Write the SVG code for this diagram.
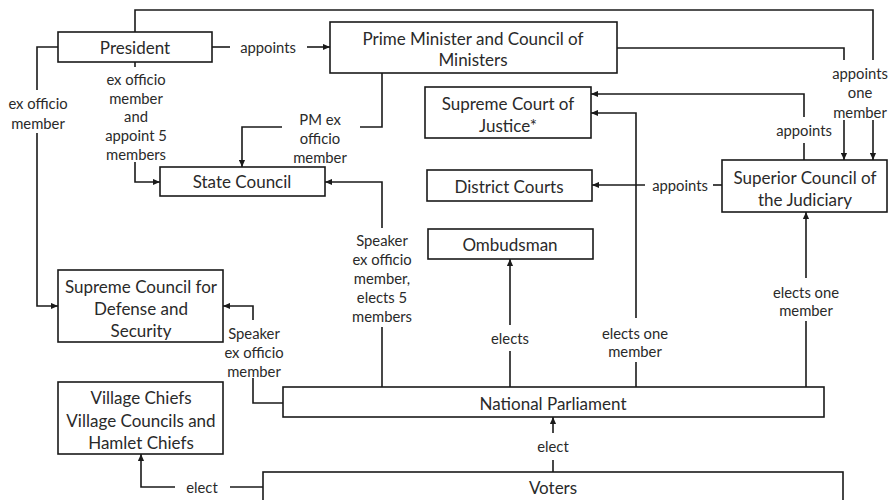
<svg xmlns="http://www.w3.org/2000/svg" width="891" height="500" viewBox="0 0 891 500">
  <style>
    .box { fill: #fff; stroke: #1a1a1a; stroke-width: 1.6; }
    .line { fill: none; stroke: #1a1a1a; stroke-width: 1.6; }
    .arr { marker-end: url(#ah); }
    .t { font-family: Lato, "Open Sans", sans-serif; font-weight: 400; font-size: 17px; fill: #2a2a2a; text-anchor: middle; dominant-baseline: central; }
    .l { font-family: Lato, "Open Sans", sans-serif; font-weight: 400; font-size: 14.8px; fill: #2a2a2a; text-anchor: middle; dominant-baseline: central; }
  </style>
  <defs>
    <marker id="ah" viewBox="0 0 8 8" refX="8" refY="4" markerWidth="7" markerHeight="7" orient="auto" markerUnits="userSpaceOnUse">
      <path d="M0,0.5 L8,4 L0,7.5 z" fill="#1a1a1a"/>
    </marker>
  </defs>
  <rect width="891" height="500" fill="#fff"/>

  <!-- connectors -->
  <g id="connectors">
    <!-- President appoints PM -->
    <path class="line" d="M212,47 H230"/>
    <path class="line arr" d="M307,47 H330"/>
    <!-- President top loop to Superior Council -->
    <path class="line" d="M135,32 V10 H873 V60"/>
    <path class="line arr" d="M873,120 V160"/>
    <!-- PM to Superior Council -->
    <path class="line" d="M617,48 H844 V60"/>
    <path class="line arr" d="M844,120 V160"/>
    <!-- President ex officio to Defense council -->
    <path class="line" d="M58,47 H37 V90"/>
    <path class="line arr" d="M37,133 V306 H58"/>
    <!-- President to State Council -->
    <path class="line" d="M135,62 V67"/>
    <path class="line arr" d="M135,162 V182 H160"/>
    <!-- PM ex officio to State Council -->
    <path class="line" d="M382,73 V127 H360"/>
    <path class="line arr" d="M282,127 H242 V167"/>
    <!-- Speaker to State Council -->
    <path class="line arr" d="M382,228 V182 H325"/>
    <path class="line" d="M382,327 V387"/>
    <!-- Speaker to Defense council -->
    <path class="line arr" d="M253,320 V306 H223"/>
    <path class="line" d="M253,378 V403 H283"/>
    <!-- Parliament elects Ombudsman -->
    <path class="line arr" d="M510,325 V259"/>
    <path class="line" d="M510,351 V387"/>
    <!-- Parliament elects one Supreme Court member -->
    <path class="line arr" d="M636,318 V113 H591"/>
    <path class="line" d="M636,362 V387"/>
    <!-- Parliament elects one Superior Council member -->
    <path class="line arr" d="M806,278 V212"/>
    <path class="line" d="M806,321 V387"/>
    <!-- Superior Council appoints Supreme Court -->
    <path class="line arr" d="M804,117 V94 H591"/>
    <path class="line" d="M804,143 V160"/>
    <!-- Superior Council appoints District Courts -->
    <path class="line" d="M722,185 H713"/>
    <path class="line arr" d="M645,185 H592"/>
    <!-- Voters elect Parliament -->
    <path class="line" d="M553,472 V460"/>
    <path class="line arr" d="M553,433 V417"/>
    <!-- Voters elect village bodies -->
    <path class="line" d="M263,487 H230"/>
    <path class="line arr" d="M175,487 H141 V454"/>
  </g>

  <!-- connector labels -->
  <g id="labels">
    <text class="l" x="268" y="47">appoints</text>
    <text class="l" x="860" y="73">appoints</text>
    <text class="l" x="860" y="92">one</text>
    <text class="l" x="860" y="112">member</text>
    <text class="l" x="38" y="103">ex officio</text>
    <text class="l" x="38" y="123">member</text>
    <text class="l" x="136" y="79">ex officio</text>
    <text class="l" x="136" y="98">member</text>
    <text class="l" x="136" y="116">and</text>
    <text class="l" x="136" y="135">appoint 5</text>
    <text class="l" x="136" y="154">members</text>
    <text class="l" x="320" y="119">PM ex</text>
    <text class="l" x="320" y="138">officio</text>
    <text class="l" x="320" y="157">member</text>
    <text class="l" x="382" y="240">Speaker</text>
    <text class="l" x="382" y="259">ex officio</text>
    <text class="l" x="382" y="278">member,</text>
    <text class="l" x="382" y="297">elects 5</text>
    <text class="l" x="382" y="316">members</text>
    <text class="l" x="254" y="333">Speaker</text>
    <text class="l" x="254" y="352">ex officio</text>
    <text class="l" x="254" y="371">member</text>
    <text class="l" x="510" y="338">elects</text>
    <text class="l" x="635" y="333">elects one</text>
    <text class="l" x="635" y="351">member</text>
    <text class="l" x="806" y="292">elects one</text>
    <text class="l" x="806" y="310">member</text>
    <text class="l" x="804" y="130">appoints</text>
    <text class="l" x="680" y="185">appoints</text>
    <text class="l" x="553" y="446">elect</text>
    <text class="l" x="202" y="487">elect</text>
  </g>

  <!-- nodes -->
  <g id="president">
    <rect class="box" x="58" y="32" width="154" height="30"/>
    <text class="t" x="135" y="47">President</text>
  </g>
  <g id="prime-minister">
    <rect class="box" x="330" y="22" width="287" height="51"/>
    <text class="t" x="473" y="38">Prime Minister and Council of</text>
    <text class="t" x="473" y="59">Ministers</text>
  </g>
  <g id="state-council">
    <rect class="box" x="160" y="167" width="165" height="29"/>
    <text class="t" x="242" y="181">State Council</text>
  </g>
  <g id="supreme-court">
    <rect class="box" x="425" y="87" width="166" height="51"/>
    <text class="t" x="508" y="103">Supreme Court of</text>
    <text class="t" x="508" y="125">Justice*</text>
  </g>
  <g id="district-courts">
    <rect class="box" x="427" y="170" width="165" height="31"/>
    <text class="t" x="509" y="186">District Courts</text>
  </g>
  <g id="superior-council">
    <rect class="box" x="722" y="160" width="165" height="52"/>
    <text class="t" x="805" y="177">Superior Council of</text>
    <text class="t" x="805" y="199">the Judiciary</text>
  </g>
  <g id="ombudsman">
    <rect class="box" x="428" y="229" width="165" height="30"/>
    <text class="t" x="510" y="244">Ombudsman</text>
  </g>
  <g id="defense-council">
    <rect class="box" x="58" y="270" width="165" height="72"/>
    <text class="t" x="141" y="286">Supreme Council for</text>
    <text class="t" x="141" y="308">Defense and</text>
    <text class="t" x="141" y="330">Security</text>
  </g>
  <g id="parliament">
    <rect class="box" x="283" y="387" width="541" height="30"/>
    <text class="t" x="553" y="403">National Parliament</text>
  </g>
  <g id="village">
    <rect class="box" x="58" y="382" width="165" height="72"/>
    <text class="t" x="141" y="397">Village Chiefs</text>
    <text class="t" x="141" y="420">Village Councils and</text>
    <text class="t" x="141" y="442">Hamlet Chiefs</text>
  </g>
  <g id="voters">
    <rect class="box" x="263" y="472" width="580" height="40"/>
    <text class="t" x="553" y="487">Voters</text>
  </g>
</svg>
